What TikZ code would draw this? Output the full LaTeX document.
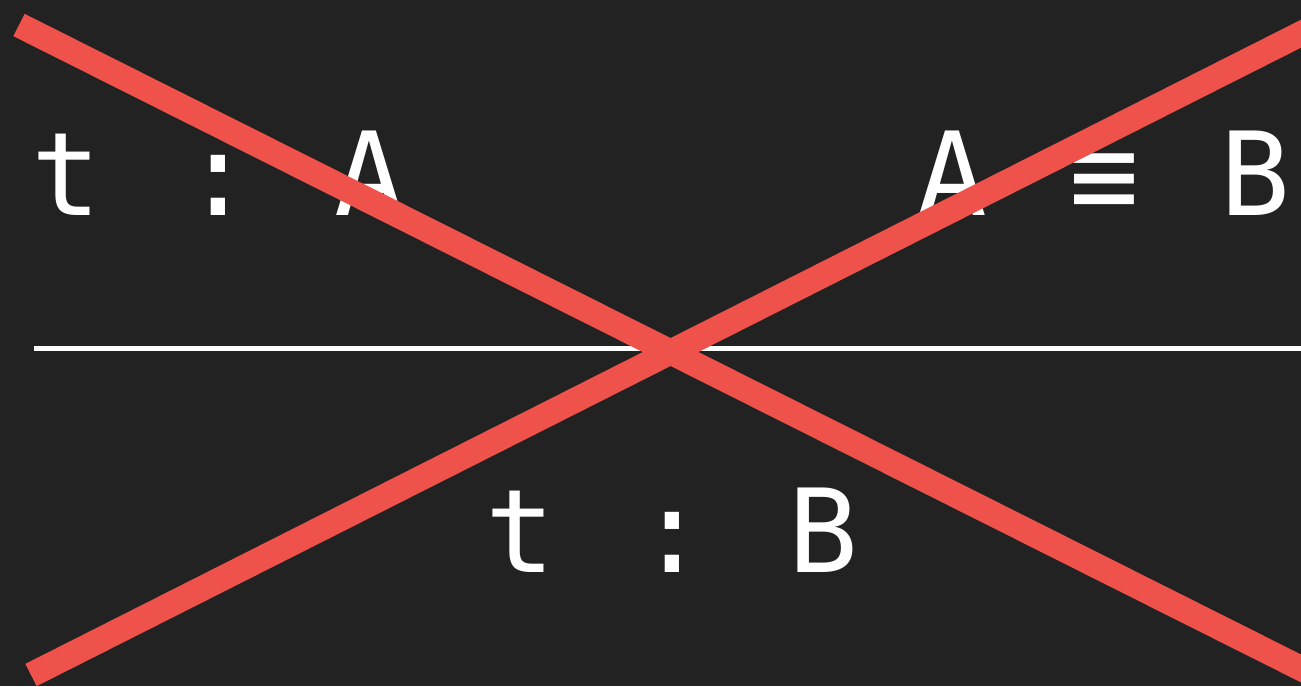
\documentclass[tikz,border=0pt]{standalone}
\usepackage{fontspec}
\setmainfont{Open Sans}
\newfontfamily\monofont{DejaVu Sans Mono}
\usetikzlibrary{positioning}
\definecolor{surface}{HTML}{222222}
\definecolor{ink}{HTML}{FFFFFF}
\definecolor{cross}{HTML}{EF514B}
\newcommand{\glyphslot}[1]{\makebox[1.52cm][c]{#1}}
\tikzset{
    formula/.style={
        anchor=base, inner sep=0pt, text=ink,
        font=\monofont\fontsize{33pt}{40pt}\selectfont
    },
    ruleline/.style={draw=ink, line width=0.05cm},
    strike/.style={draw=cross, line width=0.25cm}
}

\begin{document}
\begin{tikzpicture}
      \fill[surface] (0,0) rectangle (13.01,6.86);
      \useasboundingbox (0,0) rectangle (13.01,6.86);

      \node[formula] (prem) at (2.18,4.71) {\glyphslot{t}\glyphslot{:}\glyphslot{A}};
      \node[formula] (eqv) at (11.04,4.71) {\glyphslot{A}\glyphslot{≡}\glyphslot{B}};
      \node[formula] (concl) at (6.72,1.14) {\glyphslot{t}\glyphslot{:}\glyphslot{B}};

      \coordinate (barL) at (0.34,3.375);
      \coordinate (barR) at (13.2,3.375);
      \draw[ruleline] (barL) -- (barR);

      % the crossing out
      \coordinate (xTL) at (0.19,6.61);
      \coordinate (xBR) at (13.4,-0.02);
      \coordinate (xBL) at (0.31,0.11);
      \coordinate (xTR) at (13.4,6.72);
      \begin{scope}
        \clip (0,0) rectangle (13.01,6.86);
        \draw[strike] (xTL) -- (xBR);
        \draw[strike] (xBL) -- (xTR);
      \end{scope}
\end{tikzpicture}
\end{document}
